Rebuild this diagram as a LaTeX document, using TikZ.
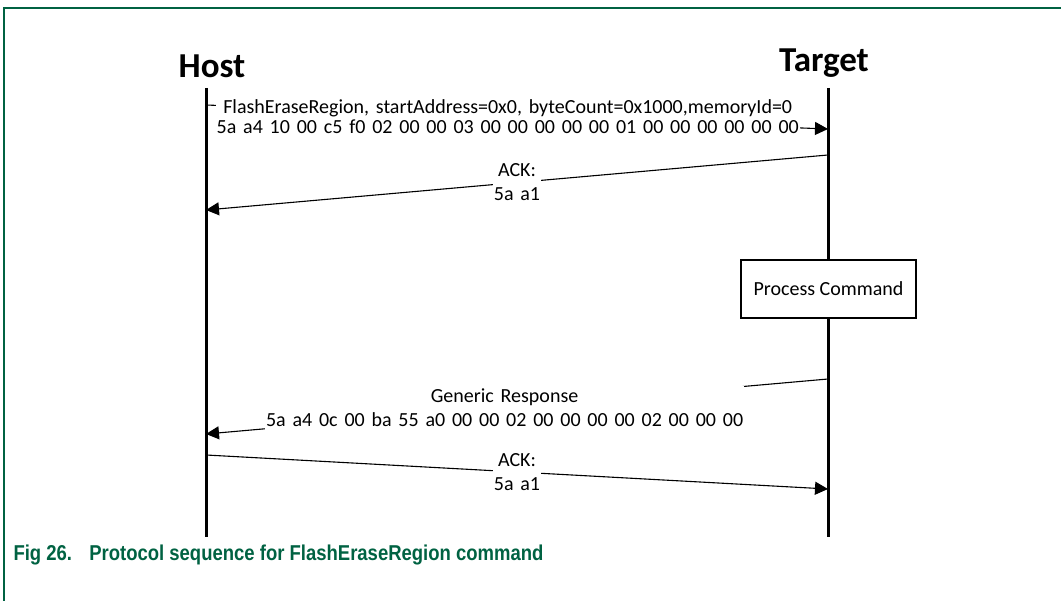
\documentclass[tikz,border=0pt]{standalone}
\usepackage{fontspec}
\setmainfont{Carlito}
\newfontfamily\capfont{Liberation Sans}
\usetikzlibrary{arrows.meta}
\definecolor{figgreen}{RGB}{0,98,66}
\tikzset{
  lifeline/.style={line width=3pt},
  msg/.style={line width=1.1pt,-{Triangle[length=13pt,width=13pt]}},
  msgtext/.style={fill=white,inner xsep=1pt,inner ysep=3pt,align=center,
                  font={\fontsize{20}{24}\selectfont\spaceskip 6.8pt\relax}},
  party/.style={font=\fontsize{35}{40}\selectfont\bfseries}
}
\begin{document}
\begin{tikzpicture}[x=1pt,y=-1pt]
    \useasboundingbox (0,0) rectangle (1061,601);
    \draw [figgreen,line width=1.5pt] (1061,8) -- (4,8) -- (4,601);% figure frame
    \coordinate (HostTop)      at (206,88);
    \coordinate (HostBottom)   at (206,537);
    \coordinate (TargetTop)    at (828,88);
    \coordinate (TargetBottom) at (828,537);
    \node [party] (Host)   at (212,66) {Host};
    \node [party] (Target) at (824,63) {Target};
    \draw [lifeline] (HostTop) -- (HostBottom);% host lifeline
    \draw [lifeline] (TargetTop) -- (TargetBottom);% target lifeline
    \node [draw,fill=white,line width=1.2pt,minimum width=175pt,minimum height=58pt,
           font=\fontsize{20}{25}\selectfont] (Process) at (828.5,289) {Process Command};
    % message end points
    \coordinate (ReqFrom)  at (206,105);
    \coordinate (ReqTo)    at (828,129);
    \coordinate (AckFrom)  at (828,155);
    \coordinate (AckTo)    at (206,210);
    \coordinate (RespFrom) at (828,379);
    \coordinate (RespTo)   at (206,434);
    \coordinate (Ack2From) at (206,455);
    \coordinate (Ack2To)   at (828,489);
    \draw [msg] (ReqFrom) -- (ReqTo) node[msgtext,pos=0.485,inner ysep=1pt,
        font={\fontsize{20}{20.5}\selectfont\spaceskip 6.8pt\relax}] (ReqText)
        {FlashEraseRegion, startAddress=0x0, byteCount=0x1000,memoryId=0\\
         5a a4 10 00 c5 f0 02 00 00 03 00 00 00 00 00 01 00 00 00 00 00 00};
    \draw [msg] (AckFrom) -- (AckTo) node[msgtext,pos=0.5] (AckText) {ACK:\\ 5a a1};
    \draw [msg] (RespFrom) -- (RespTo) node[msgtext,pos=0.52] (RespText)
        {Generic Response\\ 5a a4 0c 00 ba 55 a0 00 00 02 00 00 00 00 02 00 00 00};
    \draw [msg] (Ack2From) -- (Ack2To) node[msgtext,pos=0.5] (Ack2Text) {ACK:\\ 5a a1};
    \node [anchor=base west,text=figgreen,font=\capfont\fontsize{21.5}{24}\selectfont\bfseries] (Caption) at (10,560)
        {\scalebox{0.86}[1]{Fig 26.\hspace{20pt}Protocol sequence for FlashEraseRegion command}};
\end{tikzpicture}
\end{document}
